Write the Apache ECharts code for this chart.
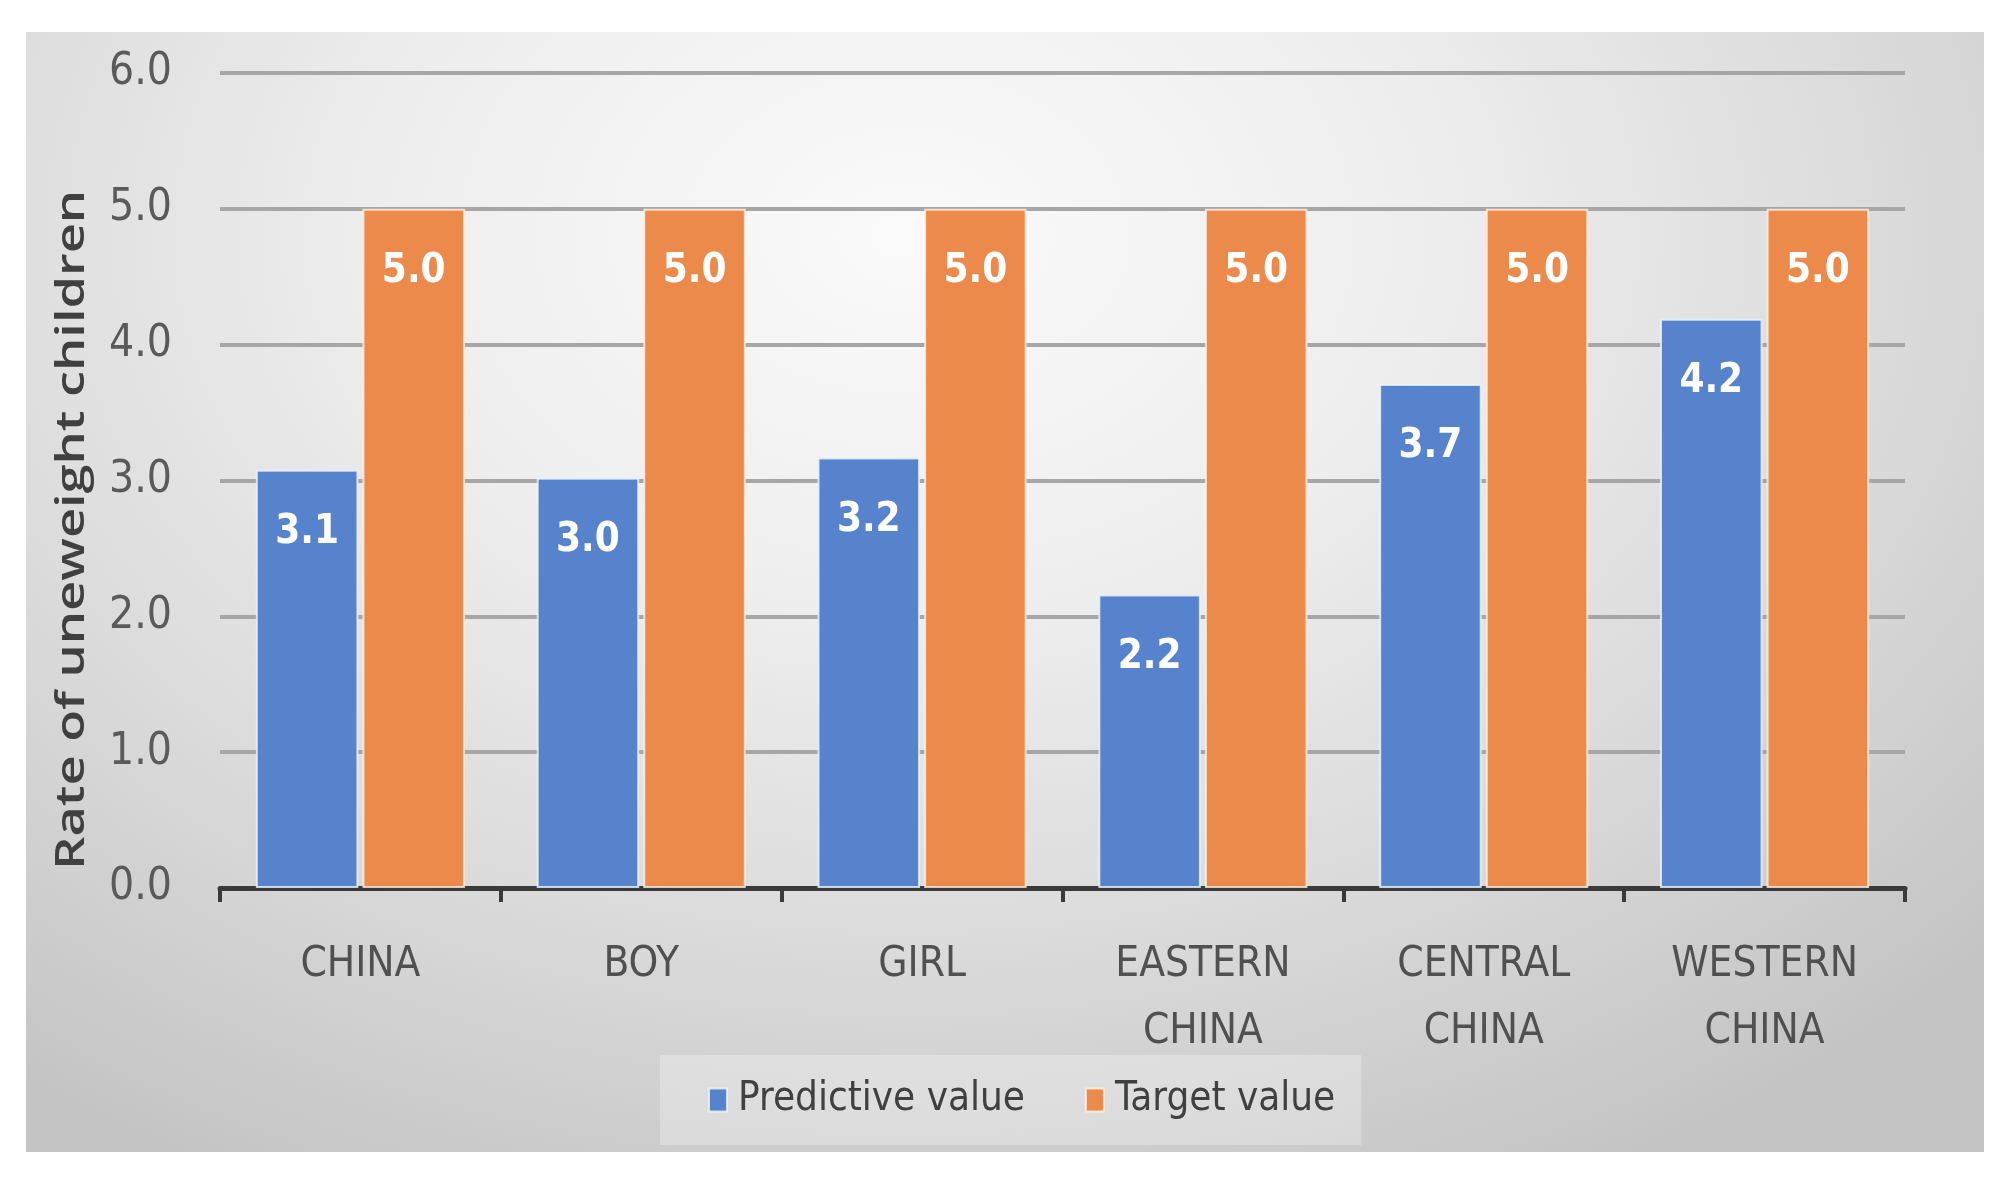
<!DOCTYPE html>
<html>
<head>
<meta charset="utf-8">
<script src="https://cdn.jsdelivr.net/npm/echarts@6/dist/echarts.min.js"></script>
<style>
html,body{margin:0;padding:0;background:#fff;width:2007px;height:1187px;overflow:hidden;}
#bg{position:absolute;left:26px;top:32px;width:1958px;height:1120px;
background:radial-gradient(ellipse 75% 95% at 45% 18%, #fafafa 0%, #eeeeee 35%, #dcdcdc 65%, #c4c4c4 100%);}
#chart{position:absolute;left:0;top:0;width:2007px;height:1187px;}
</style>
</head>
<body>
<div id="bg"></div>
<div id="chart"></div>
<script>
const categories = ['CHINA', 'BOY', 'GIRL', 'EASTERN\nCHINA', 'CENTRAL\nCHINA', 'WESTERN\nCHINA'];
const predictiveValues = [3.08, 3.02, 3.17, 2.16, 3.71, 4.19];
const targetValues = [5.0, 5.0, 5.0, 5.0, 5.0, 5.0];
const yTicks = { min: 0, max: 6, interval: 1 };
const seriesNames = ['Predictive value', 'Target value'];
const axisTitle = 'Rate of uneweight children';

const narrow = '"Liberation Sans Narrow", "DejaVu Sans Condensed", "Noto Sans", sans-serif';
const titleFont = '"Open Sans", "Noto Sans", sans-serif';
const titleSize = 40;
// stretch the axis title along its length to the span seen in the reference
const cv = document.createElement('canvas').getContext('2d');
cv.font = '600 ' + titleSize + 'px "Open Sans"';
const titleScale = 680 / cv.measureText(axisTitle).width;

const chart = echarts.init(document.getElementById('chart'), null, { renderer: 'canvas' });
const labelCfg = {
  show: true, position: 'insideTop', distance: 43,
  color: '#ffffff', fontFamily: narrow, fontWeight: 'bold', fontSize: 40,
  formatter: p => p.value.toFixed(1)
};
chart.setOption({
  backgroundColor: 'transparent',
  animation: false,
  grid: { left: 220, right: 102, top: 73, bottom: 299, containLabel: false },
  graphic: [{
    type: 'text', x: 73, y: 530, rotation: Math.PI / 2, scaleX: titleScale, scaleY: 1,
    style: { text: axisTitle, fontFamily: titleFont, fontWeight: 600, fontSize: titleSize,
             fill: '#404040', align: 'center', verticalAlign: 'middle' }
  }],
  legend: {
    bottom: 42, left: 660,
    data: seriesNames,
    itemWidth: 18, itemHeight: 23, itemGap: 60,
    icon: 'rect',
    backgroundColor: 'rgba(255,255,255,0.28)',
    padding: [25, 26, 25, 48],
    textStyle: { fontFamily: narrow, fontSize: 40, color: '#404040', padding: [0, 0, 0, 6] }
  },
  xAxis: {
    type: 'category', data: categories,
    axisLine: { lineStyle: { color: '#3a3a3a', width: 5 } },
    axisTick: { show: true, length: 14, lineStyle: { color: '#3a3a3a', width: 4 } },
    axisLabel: { fontFamily: narrow, fontSize: 42, color: '#505050', lineHeight: 67, margin: 44 }
  },
  yAxis: {
    type: 'value', min: yTicks.min, max: yTicks.max, interval: yTicks.interval,
    axisLine: { show: false }, axisTick: { show: false },
    axisLabel: { fontFamily: narrow, fontSize: 44, color: '#5a5a5a', margin: 48, formatter: v => v.toFixed(1) },
    splitLine: { lineStyle: { color: '#a6a6a6', width: 4 } }
  },
  series: [
    { name: seriesNames[0], type: 'bar', data: predictiveValues, barWidth: '36.5%', barGap: '4%',
      itemStyle: { color: '#5782cc', borderColor: 'rgba(235,245,255,0.8)', borderWidth: 2 },
      label: labelCfg },
    { name: seriesNames[1], type: 'bar', data: targetValues, barWidth: '36.5%',
      itemStyle: { color: '#eb8a4a', borderColor: 'rgba(255,240,225,0.8)', borderWidth: 2 },
      label: labelCfg }
  ]
});
</script>
</body>
</html>
